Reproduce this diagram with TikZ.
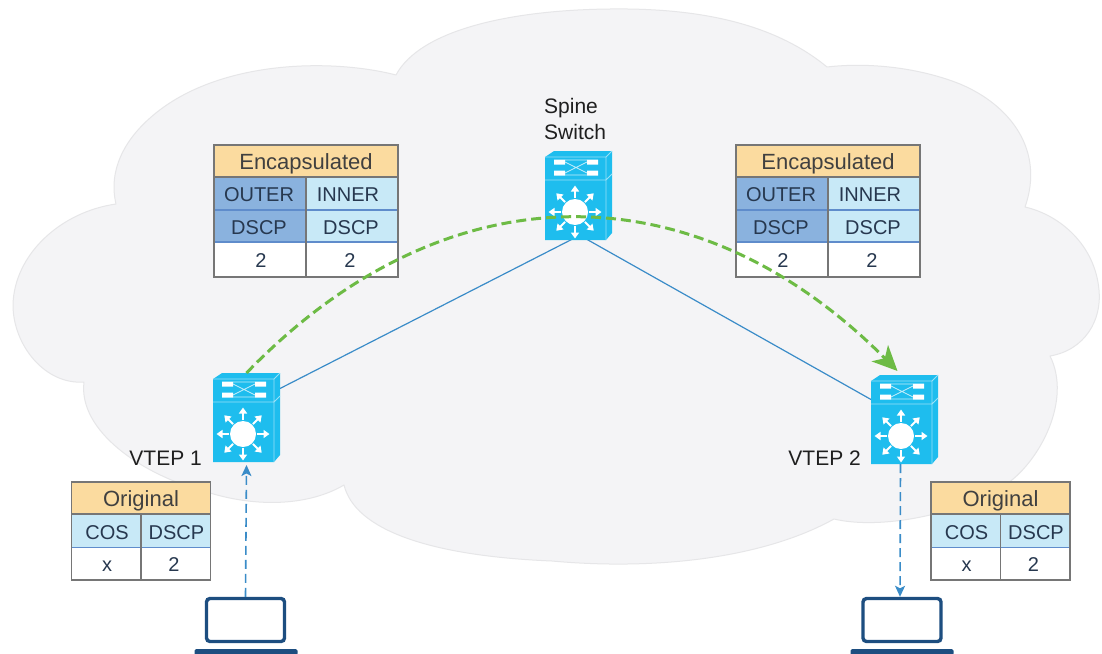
\documentclass[tikz,border=0pt]{standalone}
\usepackage{fontspec}
\setmainfont{Liberation Sans}
\usetikzlibrary{arrows.meta,calc}
\definecolor{cloudfill}{HTML}{F4F4F6}
\definecolor{cloudedge}{HTML}{E6E6E8}
\definecolor{swblue}{HTML}{1EBDEE}
\definecolor{hdr}{HTML}{FBDB9F}
\definecolor{outercell}{HTML}{8AB2DE}
\definecolor{innercell}{HTML}{C8E9F7}
\definecolor{gridgrey}{HTML}{767676}
\definecolor{gridblue}{HTML}{5F8CCB}
\definecolor{greenline}{HTML}{6DBB45}
\definecolor{linkblue}{HTML}{3A8CC8}
\definecolor{laptopblue}{HTML}{1D4E80}
\definecolor{celltext}{HTML}{27384F}
\tikzset{
  x=1pt,y=-1pt,
  cell/.style={inner sep=0pt,outer sep=0pt,anchor=center,text=celltext,text height=16pt,text depth=0pt,font=\fontsize{20}{22}\selectfont},
  hdrcell/.style={cell,fill=hdr,text=black!75,font=\fontsize{22}{24}\selectfont},
  frameline/.style={draw=gridgrey,line width=1.3pt},
  bandline/.style={draw=gridblue,line width=1.3pt},
  lbl/.style={inner sep=0pt,text=black!88,font=\fontsize{21}{26.5}\selectfont},
  swbox/.style={inner sep=0pt,outer sep=0pt,minimum width=67pt,minimum height=89pt},
  blueline/.style={draw=linkblue,line width=1.2pt},
  bluedash/.style={draw=linkblue,line width=1.6pt,dash pattern=on 9pt off 5pt,-{Stealth[length=11pt,width=10pt,inset=2.5pt]}},
  greendash/.style={draw=greenline,line width=3pt,dash pattern=on 10pt off 5pt,-{Stealth[length=25pt,width=23pt,inset=7pt]}},
  spoke/.style={draw=white,line width=2pt,-{Stealth[length=6pt,width=8pt,inset=0pt]}},
  switchpic/.pic={
    \fill[swblue] (-30,-55) -- (-21,-61) -- (37,-61) -- (37,21) -- (31,28) -- (-30,28) -- cycle;
    \draw[white!55!swblue,line width=.9pt] (-30,-55) -- (31,-55) -- (37,-61) (31,-55) -- (31,28) (-30,-32) -- (31,-32) -- (37,-38);
    \fill[white] (-21,-52.5) rectangle (-10,-47.5) (12,-52.5) rectangle (23,-47.5)
                 (-21,-41.5) rectangle (-10,-36.5) (12,-41.5) rectangle (23,-36.5);
    \draw[white!75!swblue,line width=.7pt] (-10,-50) -- (12,-39) (-10,-39) -- (12,-50) (-10,-52) -- (12,-52) (-10,-37) -- (12,-37);
    \fill[white] (0,0) circle (13);
    \foreach \a in {0,45,...,315}{\draw[spoke] (\a:14) -- (\a:26.5);}
  },
  screen/.style={draw=laptopblue,fill=white,line width=3.4pt,rounded corners=3.5pt,inner sep=0pt,outer sep=1.7pt,minimum width=78pt,minimum height=43pt},
  laptopbase/.style={fill=laptopblue,rounded corners=1.5pt,inner sep=0pt,minimum width=103pt,minimum height=6pt},
}
\newcommand{\enctable}[2]{%
  \begin{scope}[shift={(#1,0)}]
    \node[hdrcell,minimum width=184pt,minimum height=32.5pt] (#2h) at (92,161) {Encapsulated};
    \node[cell,fill=outercell,minimum width=92pt,minimum height=33pt] (#2a) at (46,193.5) {};
    \node[cell,fill=innercell,minimum width=92pt,minimum height=33pt] (#2b) at (138,193.5) {};
    \node[cell,fill=outercell,minimum width=92pt,minimum height=32pt] (#2c) at (46,226) {};
    \node[cell,fill=innercell,minimum width=92pt,minimum height=32pt] (#2d) at (138,226) {};
    \node[cell,fill=white,minimum width=92pt,minimum height=35pt] (#2e) at (46,259.5) {};
    \node[cell,fill=white,minimum width=92pt,minimum height=35pt] (#2f) at (138,259.5) {};
    \draw[bandline,line width=1.5pt] (0,210) -- (184,210) (0,242) -- (184,242);
    \draw[frameline] (0,177) -- (184,177) (92,177) -- (92,277);
    \draw[frameline] (0,145) rectangle (184,277);
    \node[cell] at (45,193.5) {OUTER};
    \node[cell] at (134,193.5) {INNER};
    \node[cell] at (45,226) {DSCP};
    \node[cell] at (137,226) {DSCP};
    \node[cell] at (47,259.5) {2};
    \node[cell] at (136,259.5) {2};
  \end{scope}}
\newcommand{\origtable}[2]{%
  \begin{scope}[shift={(#1,0)}]
    \node[hdrcell,minimum width=139pt,minimum height=32.5pt] (#2h) at (69.5,498) {Original};
    \node[cell,fill=innercell,minimum width=69.5pt,minimum height=33pt] (#2a) at (34.75,531) {};
    \node[cell,fill=innercell,minimum width=69.5pt,minimum height=33pt] (#2b) at (104.25,531) {};
    \node[cell,fill=white,minimum width=69.5pt,minimum height=32pt] (#2c) at (34.75,563.5) {};
    \node[cell,fill=white,minimum width=69.5pt,minimum height=32pt] (#2d) at (104.25,563.5) {};
    \draw[bandline] (0,547.5) -- (139,547.5);
    \draw[frameline] (0,514) -- (139,514) (69.5,514) -- (69.5,580);
    \draw[frameline] (0,482) rectangle (139,580);
    \node[cell] at (35.5,531) {COS};
    \node[cell] at (105,531) {DSCP};
    \node[cell] at (35.5,563) {x};
    \node[cell] at (102.5,563.5) {2};
  \end{scope}}
\begin{document}
\begin{tikzpicture}
\useasboundingbox (0,0) rectangle (1102,653);
\fill[white] (0,0) rectangle (1102,653);
% cloud
\draw[fill=cloudfill,draw=cloudedge,line width=1pt,line join=round]
  (396,75) .. controls (330,58) and (215,60) .. (150,118)
  .. controls (125,140) and (108,170) .. (116,204)
  .. controls (60,212) and (14,255) .. (13,305)
  .. controls (13,345) and (45,385) .. (84,382)
  .. controls (78,430) and (140,475) .. (210,493)
  .. controls (260,508) and (310,505) .. (344,485)
  .. controls (355,530) and (430,556) .. (552,561)
  .. controls (650,570) and (760,560) .. (834,519)
  .. controls (880,530) and (960,515) .. (1008,483)
  .. controls (1040,460) and (1072,400) .. (1050,356)
  .. controls (1085,350) and (1102,320) .. (1099,290)
  .. controls (1095,245) and (1060,215) .. (1025,207)
  .. controls (1045,150) and (1010,105) .. (960,84)
  .. controls (920,68) and (870,62) .. (827,67)
  .. controls (770,20) and (690,8) .. (610,9)
  .. controls (510,10) and (420,30) .. (396,75)
  -- cycle;
% switch anchors
\node[swbox] (spine) at (578.5,195.5) {};
\node[swbox] (vtep1) at (246.5,417.5) {};
\node[swbox] (vtep2) at (904.5,419.5) {};
% links behind switches
\draw[blueline] ([shift={(-4,-2)}]spine.south) -- ([shift={(0,-29)}]vtep1.east);
\draw[blueline] ([shift={(6,-2)}]spine.south) -- ([shift={(0,-20)}]vtep2.west);
% switches
\pic at (575,212) {switchpic};
\pic at (243,434) {switchpic};
\pic at (901,436) {switchpic};
% tables
\enctable{214}{ea}
\enctable{736}{eb}
\origtable{71.5}{oa}
\origtable{931}{ob}
% labels
\node[lbl,align=left,anchor=west] (spinelabel) at (544,119) {Spine\\Switch};
\node[lbl,anchor=east] (vtep1label) at (202,458) {VTEP 1};
\node[lbl,anchor=east] (vtep2label) at (861,458) {VTEP 2};
% laptops
\node[screen] (laptopa) at (245.5,620) {};
\node[laptopbase,anchor=north] (basea) at (246,649) {};
\node[screen] (laptopb) at (902,620) {};
\node[laptopbase,anchor=north] (baseb) at (902,649) {};
% connectors
\draw[bluedash] (laptopa.north) -- ([shift={(0,3)}]vtep1.south);
\draw[bluedash] ([shift={(-4,0)}]vtep2.south) -- ([shift={(-2,0)}]laptopb.north);
\draw[greendash] (vtep1.north) .. controls (445,167) and (695,167) .. ([shift={(-7,-4)}]vtep2.north);
\end{tikzpicture}
\end{document}
